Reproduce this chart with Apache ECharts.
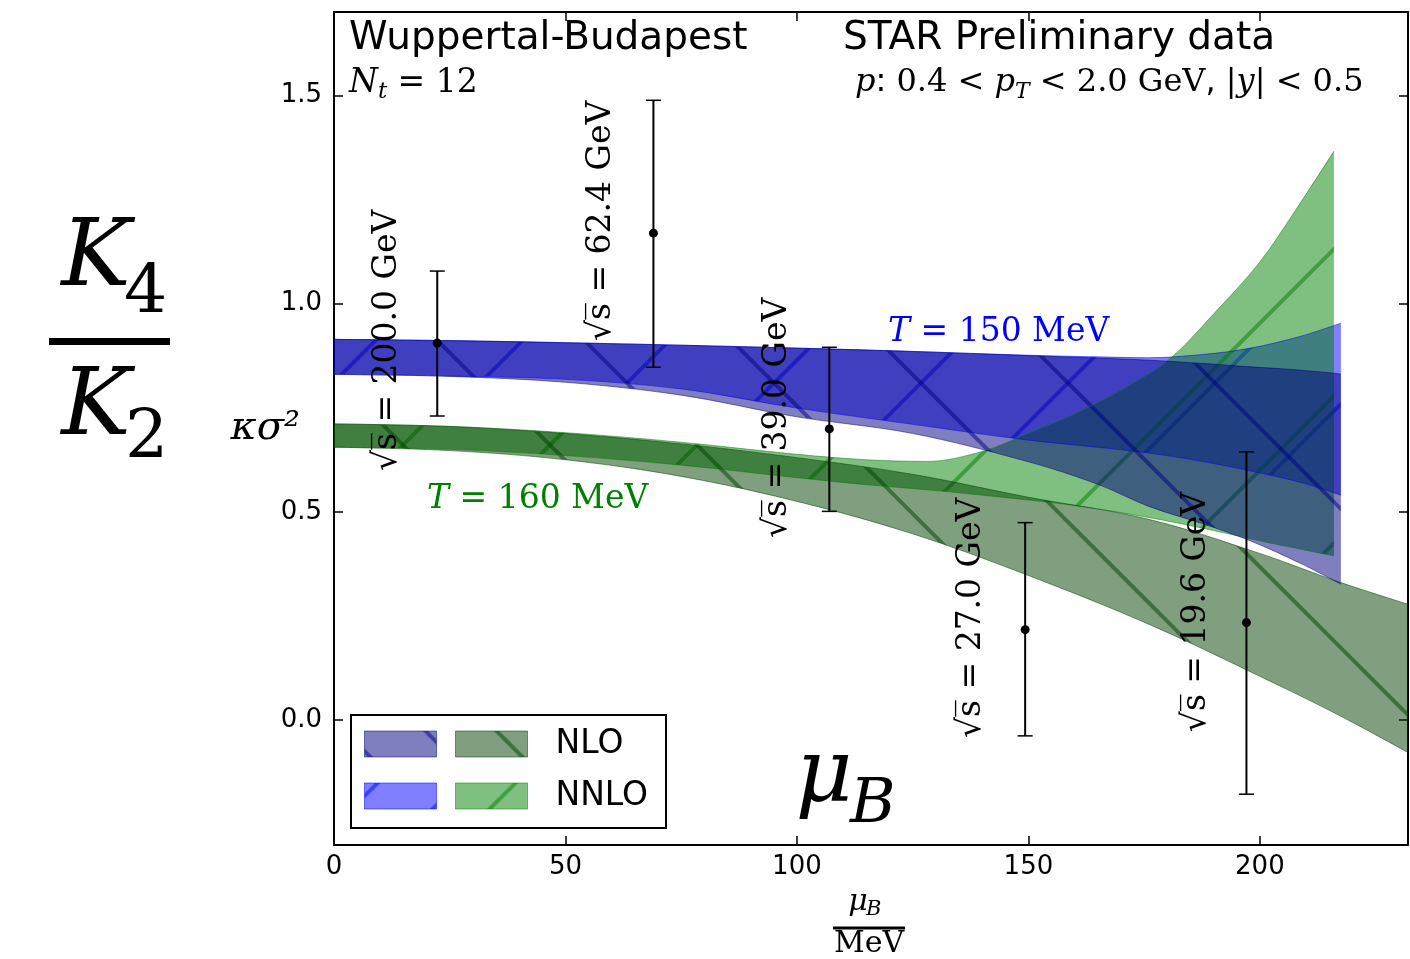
<!DOCTYPE html>
<html>
<head>
<meta charset="utf-8">
<script src="https://cdn.jsdelivr.net/npm/echarts@6/dist/echarts.min.js"></script>
<style>html,body{margin:0;padding:0;background:#fff}#c{width:1410px;height:959px}</style>
</head>
<body>
<div id="c"></div>
<script>
// ---------------- data ----------------
// T = 150 MeV bands (blue)
const muB150 = [0, 25, 50, 75, 100, 125, 150, 165, 176, 188, 198, 209, 217.5];
const nlo150Low   = [0.830, 0.825, 0.811, 0.780, 0.728, 0.688, 0.620, 0.566, 0.513, 0.470, 0.430, 0.375, 0.326];
const nlo150High  = [0.914, 0.911, 0.906, 0.900, 0.893, 0.885, 0.875, 0.869, 0.864, 0.856, 0.848, 0.840, 0.831];
const nnlo150Low  = [0.830, 0.826, 0.818, 0.795, 0.749, 0.710, 0.672, 0.655, 0.641, 0.620, 0.598, 0.570, 0.540];
const nnlo150High = [0.914, 0.911, 0.906, 0.900, 0.893, 0.885, 0.876, 0.872, 0.870, 0.878, 0.893, 0.922, 0.953];
// T = 160 MeV bands (green)
const muB160nnlo  = [0, 25, 50, 75, 100, 115, 128, 140, 151, 160, 170, 180, 190, 200, 208, 216];
const nnlo160Low  = [0.655, 0.650, 0.635, 0.612, 0.582, 0.565, 0.553, 0.540, 0.527, 0.515, 0.498, 0.478, 0.455, 0.430, 0.412, 0.394];
const nnlo160High = [0.711, 0.705, 0.690, 0.667, 0.638, 0.625, 0.621, 0.645, 0.693, 0.735, 0.792, 0.862, 0.975, 1.100, 1.229, 1.366];
const muB160nlo   = [0, 25, 50, 75, 100, 125, 150, 176, 200, 217, 232];
const nlo160Low   = [0.655, 0.647, 0.625, 0.585, 0.525, 0.447, 0.347, 0.230, 0.105, 0.012, -0.078];
const nlo160High  = [0.711, 0.705, 0.688, 0.663, 0.630, 0.590, 0.535, 0.482, 0.400, 0.332, 0.278];
// STAR preliminary data
const starMuB      = [22.3, 69.0, 107.0, 149.3, 197.1];
const starKappa    = [0.905, 1.169, 0.699, 0.217, 0.234];
const starErrLow   = [0.730, 0.847, 0.501, -0.038, -0.178];
const starErrHigh  = [1.078, 1.488, 0.895, 0.474, 0.644];
const sqrtSLabels  = ['200.0', '62.4', '39.0', '27.0', '19.6'];
// ticks
const xTicks = [0, 50, 100, 150, 200];
const yTicks = [0, 0.5, 1.0, 1.5];

// ---------------- styling helpers ----------------
const SERIF = 'DejaVu Serif', SANS = 'DejaVu Sans';
const COL = { nlo150: [0, 0, 128], nnlo150: [0, 0, 255], nlo160: [0, 64, 0], nnlo160: [0, 128, 0] };
const rgba = (c, a) => 'rgba(' + c.join(',') + ',' + a + ')';

function hatch(size, color, dir, phase, lw) {
  const cv = document.createElement('canvas');
  cv.width = size; cv.height = size;
  const g = cv.getContext('2d');
  g.fillStyle = rgba(color, 0.5);
  g.fillRect(0, 0, size, size);
  g.strokeStyle = rgba(color, 0.5);
  g.lineWidth = lw;
  for (let k = -2; k <= 2; k++) {
    const c = phase + k * size;
    g.beginPath();
    if (dir === 'back') { g.moveTo(-size, -size + c); g.lineTo(2 * size, 2 * size + c); }
    else { g.moveTo(-size, size + c); g.lineTo(2 * size, -2 * size + c); }
    g.stroke();
  }
  return { image: cv, repeat: 'repeat' };
}

// band = lower line + stacked increment with hatched area.
// Data columns are [value, muB] (encode x:1, y:0) so that ECharts stacks the y value by index.
function band(name, xs, lo, hi, color, dir, phase) {
  const edge = { color: rgba(color, 0.5), width: 1 };
  const common = { type: 'line', stack: name, stackStrategy: 'all', encode: { x: 1, y: 0 },
                   symbol: 'none', smooth: 0.35, silent: true, z: 2, lineStyle: edge };
  return [
    Object.assign({ name: name + ' low', data: xs.map((x, i) => [lo[i], x]) }, common),
    Object.assign({ name: name, data: xs.map((x, i) => [hi[i] - lo[i], x]),
      areaStyle: { color: hatch(147, color, dir, phase, 4), opacity: 1 } }, common)
  ];
}

function mathRich(color, size) {
  const L = Math.round(size * 1.33), P = Math.round(size * 0.58);
  return {
    i: { fontFamily: SERIF, fontStyle: 'italic', fontSize: size, fill: color, lineHeight: L },
    r: { fontFamily: SERIF, fontSize: size, fill: color, lineHeight: L },
    s: { fontFamily: SANS, fontSize: size, fill: color, lineHeight: L },
    sub: { fontFamily: SERIF, fontStyle: 'italic', fontSize: Math.round(size * 0.7), fill: color,
           lineHeight: L - P, padding: [P, 0, 0, 0] }
  };
}
const txt = (x, y, style, z) => ({ type: 'text', x: x, y: y, z: z || 20,
  style: Object.assign({ fill: '#000', align: 'left', verticalAlign: 'middle' }, style) });

// annotation anchors (start of rotated sqrt(s) labels, in data coords)
const labelAnchors = [[11.45, 0.598], [57.7, 0.910], [95.7, 0.437], [137.8, -0.043], [186.2, -0.029]];

const axisLineStyle = { show: true, onZero: false, lineStyle: { color: '#000', width: 2 } };
const tickStyle = (vals) => ({ show: true, inside: true, length: 9, customValues: vals, lineStyle: { color: '#000', width: 1.5 } });
const labelFont = { fontFamily: SANS, fontSize: 26, color: '#000' };
const legendText = { fontFamily: SANS, fontSize: 33, lineHeight: 26, color: '#000', padding: [10, 0, 0, 23] };

const chart = echarts.init(document.getElementById('c'), null, { renderer: 'canvas' });
const option = {
  animation: false,
  backgroundColor: '#fff',
  grid: { left: 334, top: 12, width: 1074, height: 833 },
  xAxis: [
    { type: 'value', min: 0, max: 232, position: 'bottom', axisLine: axisLineStyle, axisTick: tickStyle(xTicks),
      axisLabel: Object.assign({ customValues: xTicks, margin: 9 }, labelFont), splitLine: { show: false } },
    { type: 'value', min: 0, max: 232, position: 'top', axisLine: axisLineStyle, axisTick: tickStyle(xTicks),
      axisLabel: { show: false }, splitLine: { show: false } }
  ],
  yAxis: [
    { type: 'value', min: -0.3, max: 1.7, position: 'left', axisLine: axisLineStyle, axisTick: tickStyle(yTicks),
      axisLabel: Object.assign({ customValues: yTicks, margin: 12, formatter: v => v.toFixed(1) }, labelFont),
      splitLine: { show: false },
      name: 'κσ²', nameLocation: 'middle', nameRotate: 0, nameGap: 34, nameMoveOverlap: false,
      nameTextStyle: { fontFamily: SERIF, fontStyle: 'italic', fontSize: 40, color: '#000', align: 'right', padding: [0, 0, 46, 0] } },
    { type: 'value', min: -0.3, max: 1.7, position: 'right', axisLine: axisLineStyle, axisTick: tickStyle(yTicks),
      axisLabel: { show: false }, splitLine: { show: false } }
  ],
  legend: [
    { left: 364, top: 726, padding: 0, orient: 'vertical', itemWidth: 72, itemHeight: 26, itemGap: 16,
      selectedMode: false, z: 10, formatter: () => ' ', textStyle: legendText,
      data: [
        { name: 'NLO 150', icon: 'rect', itemStyle: { color: hatch(81, COL.nlo150, 'back', 20, 4), borderColor: rgba(COL.nlo150, 0.5), borderWidth: 1 } },
        { name: 'NNLO 150', icon: 'rect', itemStyle: { color: hatch(81, COL.nnlo150, 'fwd', 13, 4), borderColor: rgba(COL.nnlo150, 0.5), borderWidth: 1 } }
      ] },
    { left: 455, top: 726, padding: 0, orient: 'vertical', itemWidth: 72, itemHeight: 26, itemGap: 16,
      selectedMode: false, z: 10, formatter: n => n.indexOf('NNLO') === 0 ? 'NNLO' : 'NLO', textStyle: legendText,
      data: [
        { name: 'NLO 160', icon: 'rect', itemStyle: { color: hatch(81, COL.nlo160, 'back', -41, 4), borderColor: rgba(COL.nlo160, 0.5), borderWidth: 1 } },
        { name: 'NNLO 160', icon: 'rect', itemStyle: { color: hatch(81, COL.nnlo160, 'fwd', 60, 4), borderColor: rgba(COL.nnlo160, 0.5), borderWidth: 1 } }
      ] }
  ],
  series: [].concat(
    band('NNLO 150', muB150, nnlo150Low, nnlo150High, COL.nnlo150, 'fwd', 128),
    band('NNLO 160', muB160nnlo, nnlo160Low, nnlo160High, COL.nnlo160, 'fwd', 113),
    band('NLO 150', muB150, nlo150Low, nlo150High, COL.nlo150, 'back', 50),
    band('NLO 160', muB160nlo, nlo160Low, nlo160High, COL.nlo160, 'back', 42),
    [
      { type: 'custom', name: 'STAR', z: 5, silent: true,
        dimensions: ['x', 'y', 'lo', 'hi'], encode: { x: 0, y: [1, 2, 3] },
        data: starMuB.map((x, i) => [x, starKappa[i], starErrLow[i], starErrHigh[i]]),
        renderItem: function (params, api) {
          const p = api.coord([api.value(0), api.value(1)]);
          const lo = api.coord([api.value(0), api.value(2)]);
          const hi = api.coord([api.value(0), api.value(3)]);
          const cw = 7.5;
          return { type: 'group', children: [
            { type: 'line', shape: { x1: p[0], y1: lo[1], x2: p[0], y2: hi[1] }, style: { stroke: '#000', lineWidth: 2 } },
            { type: 'line', shape: { x1: p[0] - cw, y1: hi[1], x2: p[0] + cw, y2: hi[1] }, style: { stroke: '#000', lineWidth: 1.5 } },
            { type: 'line', shape: { x1: p[0] - cw, y1: lo[1], x2: p[0] + cw, y2: lo[1] }, style: { stroke: '#000', lineWidth: 1.5 } },
            { type: 'circle', shape: { cx: p[0], cy: p[1], r: 4.5 }, style: { fill: '#000' } }
          ] };
        } },
      { type: 'custom', name: 'sqrt-s labels', z: 6, silent: true,
        dimensions: ['x', 'y'], encode: { x: 0, y: 1 },
        data: labelAnchors,
        renderItem: function (params, api) {
          const p = api.coord([api.value(0), api.value(1)]);
          return { type: 'text', x: p[0], y: p[1], rotation: Math.PI / 2,
            style: { text: '√s̅ = ' + sqrtSLabels[params.dataIndex] + ' GeV', fontFamily: SERIF, fontSize: 33,
                     fill: '#000', align: 'left', verticalAlign: 'middle' } };
        } }
    ]
  ),
  graphic: [
    { type: 'rect', z: 5, shape: { x: 351, y: 715, width: 315, height: 113 }, style: { fill: '#fff', stroke: '#000', lineWidth: 2 } },
    txt(349, 39, { text: 'Wuppertal-Budapest', fontFamily: SANS, fontSize: 39 }),
    txt(843, 39, { text: 'STAR Preliminary data', fontFamily: SANS, fontSize: 39 }),
    txt(349, 83, { text: '{i|N}{sub|t}{r| = 12}', rich: mathRich('#000', 33) }),
    txt(855, 83, { text: '{i|p}{s|: }{r|0.4 < }{i|p}{sub|T}{r| < 2.0 GeV}{s|, }{r||}{i|y}{r|| < 0.5}', rich: mathRich('#000', 32) }),
    txt(888, 332, { text: '{i|T}{r| = 150 MeV}', rich: mathRich('#0000ff', 33) }),
    txt(427, 499, { text: '{i|T}{r| = 160 MeV}', rich: mathRich('#008000', 33) }),
    // big K4 / K2
    txt(96, 261, { text: 'K', fontFamily: SERIF, fontStyle: 'italic', fontSize: 93, align: 'center' }),
    txt(124, 294, { text: '4', fontFamily: SERIF, fontSize: 68 }),
    { type: 'rect', z: 20, shape: { x: 49, y: 338, width: 121, height: 7 }, style: { fill: '#000' } },
    txt(96, 410, { text: 'K', fontFamily: SERIF, fontStyle: 'italic', fontSize: 93, align: 'center' }),
    txt(125, 439, { text: '2', fontFamily: SERIF, fontSize: 68 }),
    // big mu_B in plot
    txt(824, 778, { text: 'μ', fontFamily: SERIF, fontStyle: 'italic', fontSize: 88, align: 'center' }),
    txt(850, 806, { text: 'B', fontFamily: SERIF, fontStyle: 'italic', fontSize: 62 }),
    // x axis title  mu_B / MeV
    txt(858, 902, { text: 'μ', fontFamily: SERIF, fontStyle: 'italic', fontSize: 30, align: 'center' }),
    txt(866, 910, { text: 'B', fontFamily: SERIF, fontStyle: 'italic', fontSize: 21 }),
    { type: 'rect', z: 20, shape: { x: 833, y: 926.5, width: 72, height: 3 }, style: { fill: '#000' } },
    txt(869, 944, { text: 'MeV', fontFamily: SERIF, fontSize: 30, align: 'center' })
  ]
};
chart.setOption(option);
</script>
</body>
</html>
